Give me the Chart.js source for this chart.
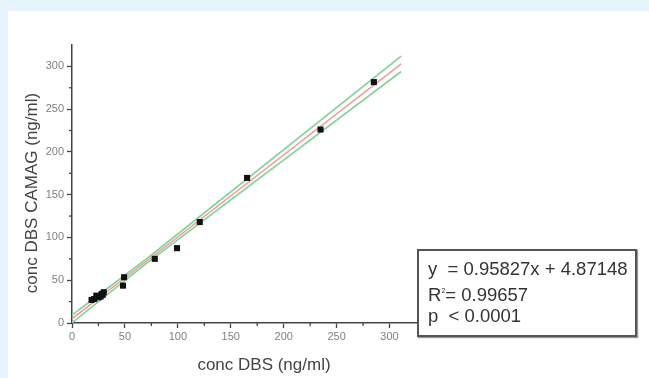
<!DOCTYPE html>
<html>
<head>
<meta charset="utf-8">
<script src="https://cdn.jsdelivr.net/npm/chart.js@4.4.1/dist/chart.umd.min.js"></script>
<style>
  html, body { margin: 0; padding: 0; }
  body { width: 649px; height: 378px; background: #e8f4fc; position: relative; overflow: hidden; font-family: "Liberation Sans", Arial, sans-serif; }
  #wrap { position: absolute; left: 8px; top: 11px; width: 641px; height: 367px; background: #fff; }
  #chart { display: block; }
  #stats { position: absolute; left: 417px; top: 249px; width: 216px; height: 84px; border: 2px solid #555; background: #fff; box-shadow: 1px 1px 1px #999; color: #333; font-size: 18.5px; }
  #stats div { position: absolute; left: 9px; white-space: pre; line-height: 20px; }
  #stats sup { font-size: 7px; vertical-align: 8px; line-height: 0; }
</style>
</head>
<body>
<div id="wrap"><canvas id="chart" width="641" height="367"></canvas></div>
<div id="stats">
  <div style="top:8px">y  = 0.95827x + 4.87148</div>
  <div style="top:34px">R<sup>2</sup>= 0.99657</div>
  <div style="top:55px">p  &lt; 0.0001</div>
</div>
<script>
// measured points (conc DBS, conc DBS CAMAG)
const dbs   = [18.5, 21, 23, 25, 27, 28, 29, 30, 48.2, 49.2, 78.2, 99.2, 120.7, 165.4, 234.8, 285.2];
const camag = [27, 28, 32, 30, 31, 34, 33, 36, 43.7, 53.5, 75, 87.5, 118, 169.6, 226.2, 281.6];

// fit line and confidence band
const lineX  = [0, 70, 311];
const fitY   = [4.9, 71.9, 302.9];
const upperY = [9.4, 74.5, 312];
const lowerY = [0.3, 69.4, 294];

const xTicks = [0, 50, 100, 150, 200, 250, 300];
const yTicks = [0, 50, 100, 150, 200, 250, 300];

const toPts = (xs, ys) => xs.map((x, i) => ({ x: x, y: ys[i] }));

const minorTicks = {
  id: 'minorTicks',
  afterDraw(chart) {
    const c = chart.ctx;
    const xs = chart.scales.x, ys = chart.scales.y;
    c.save();
    c.strokeStyle = '#444';
    c.lineWidth = 1.3;
    for (let v = 25; v < 325; v += 50) {
      const px = xs.getPixelForValue(v);
      c.beginPath(); c.moveTo(px, ys.bottom); c.lineTo(px, ys.bottom + 3); c.stroke();
      const py = ys.getPixelForValue(v);
      c.beginPath(); c.moveTo(xs.left, py); c.lineTo(xs.left - 3, py); c.stroke();
    }
    // axis titles
    c.fillStyle = '#444';
    c.font = '17px "Liberation Sans", Arial, sans-serif';
    c.textAlign = 'center';
    c.textBaseline = 'middle';
    c.fillText('conc DBS (ng/ml)', 256, 354);
    c.translate(24, 182);
    c.rotate(-Math.PI / 2);
    c.fillText('conc DBS CAMAG (ng/ml)', 0, 0);
    c.restore();
  }
};

new Chart(document.getElementById('chart'), {
  type: 'scatter',
  data: {
    datasets: [
      { data: toPts(dbs, camag), pointStyle: 'rect', pointRadius: 4.3, backgroundColor: '#111', borderColor: '#111', borderWidth: 0 },
      { data: toPts(lineX, fitY), showLine: true, pointRadius: 0, borderColor: '#f29a9a', borderWidth: 1.5 },
      { data: toPts(lineX, upperY), showLine: true, pointRadius: 0, borderColor: '#86d39a', borderWidth: 1.7 },
      { data: toPts(lineX, lowerY), showLine: true, pointRadius: 0, borderColor: '#86d39a', borderWidth: 1.7 }
    ]
  },
  options: {
    responsive: false,
    animation: false,
    devicePixelRatio: 1,
    layout: { padding: { top: 34, right: 233, left: 0, bottom: 0 } },
    plugins: { legend: { display: false }, tooltip: { enabled: false } },
    scales: {
      x: {
        type: 'linear', min: 0, max: 325,
        afterFit(s) { s.height = 55; },
        afterBuildTicks(s) { s.ticks = xTicks.map(v => ({ value: v })); },
        border: { color: '#444', width: 1.5 },
        grid: { drawOnChartArea: false, tickLength: 5, tickColor: '#444', tickWidth: 1.3 },
        ticks: { padding: 2, color: '#808080', font: { size: 11, family: '"Liberation Sans", Arial, sans-serif' } }
      },
      y: {
        type: 'linear', min: 0, max: 325,
        afterFit(s) { s.width = 64; },
        afterBuildTicks(s) { s.ticks = yTicks.map(v => ({ value: v })); },
        border: { color: '#444', width: 1.5 },
        grid: { drawOnChartArea: false, tickLength: 5, tickColor: '#444', tickWidth: 1.3 },
        ticks: { padding: 3, color: '#808080', font: { size: 11, family: '"Liberation Sans", Arial, sans-serif' } }
      }
    }
  },
  plugins: [minorTicks]
});
</script>
</body>
</html>
